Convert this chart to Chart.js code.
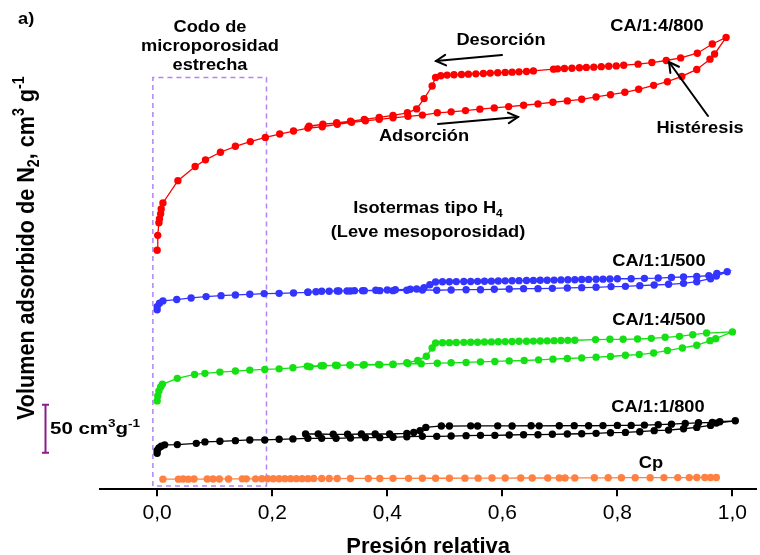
<!DOCTYPE html>
<html><head><meta charset="utf-8">
<script src="https://cdn.jsdelivr.net/npm/chart.js@4.4.1/dist/chart.umd.min.js"></script>
<style>html,body{margin:0;padding:0;background:#fff;}canvas{display:block;}</style>
</head><body>
<canvas id="c" width="760" height="555"></canvas>
<script>
// ---------- data ----------
const xTickValues = [0, 0.2, 0.4, 0.6, 0.8, 1.0];
const xTickLabels = ['0,0', '0,2', '0,4', '0,6', '0,8', '1,0'];
const xRange = [-0.0994, 1.0415];
const yRange = [0, 506];
const seriesNames = ['CA/1:4/800', 'CA/1:1/500', 'CA/1:4/500', 'CA/1:1/800', 'Cp'];
const seriesColors = ['#ff0000', '#3434ff', '#14e014', '#000000', '#ff8040'];

// CA/1:4/800 : adsorption then desorption
const redAds = [[0.000,249.1],[0.001,264.6],[0.003,277.7],[0.004,281.8],[0.006,287.0],[0.007,292.2],[0.010,298.4],[0.036,321.6],[0.066,336.4],[0.084,343.3],[0.110,351.2],[0.136,357.4],[0.162,362.3],[0.188,366.7],[0.213,370.2],[0.237,373.3],[0.262,376.4],[0.287,377.8],[0.313,380.4],[0.338,382.4],[0.362,384.0],[0.386,385.5],[0.410,387.1],[0.436,388.6],[0.461,389.9],[0.487,392.3],[0.511,393.3],[0.536,394.6],[0.561,396.1],[0.586,397.4],[0.611,398.8],[0.637,400.2],[0.662,401.6],[0.688,403.3],[0.713,404.7],[0.738,406.4],[0.763,408.8],[0.788,411.2],[0.813,413.7],[0.837,416.8],[0.863,420.9],[0.887,424.7],[0.912,430.2],[0.938,437.5],[0.961,448.2],[0.969,453.6],[0.989,470.9]];
const redDes = [[0.965,464.0],[0.939,454.4],[0.910,449.5],[0.885,446.8],[0.860,444.7],[0.836,443.0],[0.811,441.9],[0.798,441.2],[0.785,440.9],[0.772,440.4],[0.759,439.9],[0.746,439.6],[0.734,439.2],[0.721,438.8],[0.708,438.5],[0.696,438.1],[0.689,437.8],[0.654,436.0],[0.642,435.4],[0.629,435.0],[0.617,434.7],[0.605,434.4],[0.592,434.0],[0.579,433.7],[0.567,433.3],[0.554,432.9],[0.541,432.6],[0.529,432.3],[0.516,431.9],[0.504,431.6],[0.493,430.9],[0.484,429.2],[0.478,420.2],[0.464,407.1],[0.451,396.4],[0.435,392.3],[0.410,389.6],[0.386,387.6],[0.360,385.5],[0.336,383.5],[0.312,381.9],[0.288,380.4],[0.264,378.3]];

// CA/1:1/500
const blueAds = [[0.000,187.0],[0.000,190.4],[0.004,193.9],[0.010,196.3],[0.034,197.7],[0.059,199.4],[0.085,200.8],[0.111,201.8],[0.136,202.5],[0.161,203.2],[0.186,203.9],[0.212,204.2],[0.237,204.6],[0.262,205.3],[0.286,206.3],[0.313,206.7],[0.336,206.7],[0.357,207.0],[0.387,207.0],[0.410,207.0],[0.434,207.4],[0.461,207.7],[0.486,207.4],[0.511,207.7],[0.537,208.0],[0.562,208.0],[0.586,208.4],[0.612,208.7],[0.637,209.1],[0.662,209.1],[0.687,209.4],[0.713,209.8],[0.738,210.1],[0.763,210.5],[0.789,211.2],[0.814,211.5],[0.839,212.2],[0.864,212.9],[0.889,213.6],[0.915,214.6],[0.938,216.3],[0.962,219.4],[0.972,222.2],[0.991,226.7]];
const blueDes = [[0.973,225.0],[0.959,222.5],[0.938,221.8],[0.915,221.2],[0.894,220.8],[0.871,220.1],[0.847,219.8],[0.824,219.4],[0.800,219.4],[0.787,219.1],[0.775,219.0],[0.763,218.8],[0.750,218.7],[0.738,218.6],[0.726,218.4],[0.714,218.3],[0.702,218.2],[0.690,218.0],[0.678,217.9],[0.666,217.8],[0.654,217.7],[0.642,217.5],[0.629,217.4],[0.617,217.3],[0.605,217.2],[0.593,217.0],[0.581,216.9],[0.569,216.8],[0.557,216.7],[0.545,216.6],[0.533,216.5],[0.520,216.4],[0.508,216.3],[0.496,216.2],[0.484,216.0],[0.474,213.2],[0.464,210.1],[0.451,208.7],[0.440,208.4],[0.414,208.0],[0.400,207.7],[0.380,207.4],[0.360,207.0],[0.343,207.0],[0.330,206.7],[0.316,206.7],[0.299,206.3],[0.276,205.9],[0.262,205.3]];

// CA/1:4/500
const greenAds = [[0.000,92.1],[0.001,97.3],[0.003,102.5],[0.006,106.6],[0.009,109.4],[0.035,115.6],[0.065,119.7],[0.083,120.8],[0.109,122.1],[0.136,123.2],[0.161,124.2],[0.187,124.9],[0.212,125.5],[0.236,126.6],[0.261,128.3],[0.285,128.8],[0.310,129.2],[0.335,129.5],[0.360,129.9],[0.385,130.1],[0.410,130.4],[0.436,131.1],[0.459,130.7],[0.487,131.4],[0.511,131.8],[0.537,132.2],[0.562,132.8],[0.587,133.2],[0.612,133.8],[0.638,134.2],[0.663,134.9],[0.688,135.6],[0.713,136.3],[0.738,136.9],[0.763,137.7],[0.788,138.4],[0.814,139.7],[0.838,140.4],[0.863,142.1],[0.887,144.6],[0.913,147.3],[0.938,150.1],[0.961,154.9],[0.971,157.0],[1.000,164.0]];
const greenDes = [[0.955,162.8],[0.931,161.1],[0.908,159.4],[0.883,158.4],[0.859,157.3],[0.835,156.6],[0.810,156.3],[0.787,156.3],[0.762,156.0],[0.726,155.3],[0.714,155.2],[0.702,155.0],[0.690,154.9],[0.678,154.7],[0.666,154.6],[0.654,154.4],[0.642,154.3],[0.629,154.2],[0.617,154.0],[0.605,153.9],[0.593,153.8],[0.581,153.6],[0.569,153.5],[0.557,153.3],[0.545,153.2],[0.533,153.1],[0.520,152.9],[0.508,152.8],[0.496,152.7],[0.484,152.5],[0.478,147.3],[0.468,138.7],[0.453,134.2],[0.434,131.8],[0.410,130.1],[0.387,129.7],[0.358,129.4],[0.336,129.4],[0.313,129.1],[0.289,128.7],[0.266,127.6]];

// CA/1:1/800
const blackAds = [[0.000,37.6],[0.000,40.4],[0.003,43.2],[0.007,44.8],[0.013,46.3],[0.035,46.6],[0.068,47.9],[0.083,49.4],[0.109,50.0],[0.136,50.7],[0.161,51.4],[0.187,51.4],[0.212,52.1],[0.236,52.5],[0.262,53.1],[0.286,53.1],[0.311,53.1],[0.336,53.5],[0.362,53.8],[0.387,53.8],[0.410,54.2],[0.434,54.8],[0.461,55.2],[0.486,55.2],[0.511,55.5],[0.537,55.9],[0.562,56.2],[0.587,56.2],[0.612,56.6],[0.637,56.9],[0.662,56.9],[0.687,57.3],[0.713,57.6],[0.738,57.9],[0.763,58.3],[0.788,59.0],[0.814,59.3],[0.839,60.0],[0.864,61.1],[0.889,61.7],[0.915,63.1],[0.938,64.5],[0.962,66.6],[0.972,69.0],[1.005,71.4]];
const blackDes = [[0.978,70.4],[0.965,69.7],[0.941,69.3],[0.918,68.6],[0.894,67.9],[0.871,67.3],[0.847,66.9],[0.824,66.6],[0.800,66.6],[0.775,66.4],[0.750,66.2],[0.725,66.3],[0.699,66.2],[0.664,66.1],[0.650,66.2],[0.617,66.0],[0.592,66.1],[0.557,66.0],[0.545,66.1],[0.508,65.9],[0.494,66.0],[0.467,64.5],[0.457,61.1],[0.446,59.3],[0.434,58.3],[0.404,57.6],[0.379,57.6],[0.355,57.6],[0.331,57.3],[0.306,57.3],[0.280,57.6],[0.258,57.6]];

// Cp
const cpPts = [[0.010,10.6],[0.037,10.6],[0.045,10.7],[0.054,10.6],[0.064,10.7],[0.087,10.7],[0.097,10.8],[0.108,10.8],[0.124,10.8],[0.148,10.9],[0.155,10.9],[0.171,10.9],[0.182,11.0],[0.192,11.0],[0.202,11.0],[0.212,11.0],[0.222,11.1],[0.232,11.1],[0.242,11.1],[0.252,11.1],[0.262,11.1],[0.272,11.2],[0.286,11.2],[0.299,11.2],[0.313,11.2],[0.336,11.3],[0.367,11.3],[0.387,11.3],[0.410,11.4],[0.437,11.4],[0.461,11.5],[0.484,11.5],[0.508,11.5],[0.535,11.6],[0.558,11.6],[0.582,11.7],[0.605,11.7],[0.632,11.8],[0.652,11.8],[0.679,11.8],[0.699,11.9],[0.709,11.9],[0.726,11.9],[0.760,12.0],[0.784,12.0],[0.807,12.1],[0.831,12.1],[0.857,12.1],[0.881,12.2],[0.905,12.2],[0.925,12.2],[0.938,12.3],[0.952,12.3],[0.962,12.3],[0.972,12.3]];

// "Codo de microporosidad estrecha" box (data units)
const boxX = [-0.0075, 0.190];
const boxY = [3.4, 429];
// scale bar: 50 cm3/g
const scaleBar = [38, 88];

// ---------- chart ----------
const FONT = '"Liberation Sans", Arial, Helvetica, sans-serif';
const toXY = a => a.map(p => ({x: p[0], y: p[1]}));
const seriesData = [
  redAds.concat(redDes), blueAds.concat(blueDes), greenAds.concat(greenDes),
  blackAds.concat(blackDes), cpPts
];
const datasets = seriesData.map((d, i) => ({
  label: seriesNames[i], data: toXY(d), showLine: true,
  borderColor: seriesColors[i], backgroundColor: seriesColors[i],
  borderWidth: 1.3, pointRadius: 3.7, pointBorderWidth: 0, pointHoverRadius: 3.7, tension: 0
}));
datasets.push({
  label: 'box', showLine: true, pointRadius: 0, borderWidth: 1.5,
  borderColor: '#b383f6', borderDash: [5, 4],
  data: toXY([[boxX[0], boxY[0]], [boxX[0], boxY[1]], [boxX[1], boxY[1]], [boxX[1], boxY[0]], [boxX[0], boxY[0]]])
});

function rich(ctx, segs, x, y, size, align, sx, sy) {
  ctx.save();
  ctx.translate(x, y);
  ctx.scale(sx || 1, sy || 1);
  ctx.textBaseline = 'alphabetic';
  ctx.textAlign = 'left';
  const f = s => 'bold ' + ((s.sub || s.sup) ? size * 0.66 : size) + 'px ' + FONT;
  const w = segs.map(s => { ctx.font = f(s); return ctx.measureText(s.t).width; });
  const total = w.reduce((a, b) => a + b, 0);
  let cx = align === 'center' ? -total / 2 : 0;
  segs.forEach((s, i) => {
    ctx.font = f(s);
    const dy = s.sub ? size * 0.22 : (s.sup ? -size * 0.42 : 0);
    ctx.fillText(s.t, cx, dy);
    cx += w[i];
  });
  ctx.restore();
}
function arrow(ctx, x1, y1, x2, y2) {
  ctx.save();
  ctx.strokeStyle = '#000'; ctx.lineWidth = 2; ctx.lineCap = 'round';
  ctx.beginPath(); ctx.moveTo(x1, y1); ctx.lineTo(x2, y2); ctx.stroke();
  const a = Math.atan2(y2 - y1, x2 - x1), L = 11, h = 0.5;
  ctx.beginPath();
  ctx.moveTo(x2 - L * Math.cos(a - h), y2 - L * Math.sin(a - h));
  ctx.lineTo(x2, y2);
  ctx.lineTo(x2 - L * Math.cos(a + h), y2 - L * Math.sin(a + h));
  ctx.stroke();
  ctx.restore();
}

const annot = {
  id: 'annot',
  afterDraw(chart) {
    const ctx = chart.ctx;
    const ys = chart.scales.y;
    ctx.save();
    ctx.fillStyle = '#000';
    const S = 16, SX = 1.14;
    const t = (s, x, y, al) => rich(ctx, [{t: s}], x, y, S, al || 'center', SX, 1);
    t('a)', 18, 24, 'left');
    t('Codo de', 210, 32);
    t('microporosidad', 210, 51);
    t('estrecha', 210, 70);
    t('Desorción', 501, 45);
    t('Adsorción', 424, 141);
    t('CA/1:4/800', 657, 31);
    t('Histéresis', 700, 133);
    rich(ctx, [{t: 'Isotermas tipo H'}, {t: '4', sub: true}], 428, 213, S, 'center', SX, 1);
    t('(Leve mesoporosidad)', 428, 237);
    t('CA/1:1/500', 659, 266);
    t('CA/1:4/500', 659, 325);
    t('CA/1:1/800', 658, 412);
    t('Cp', 651, 468);
    arrow(ctx, 502, 55, 436, 61);
    arrow(ctx, 438, 124, 518, 117);
    arrow(ctx, 708, 116, 669, 62);
    // scale bar
    const yt = ys.getPixelForValue(scaleBar[1]), yb = ys.getPixelForValue(scaleBar[0]);
    ctx.strokeStyle = '#8c1c8c'; ctx.lineWidth = 2;
    ctx.beginPath();
    ctx.moveTo(45.5, yt); ctx.lineTo(45.5, yb);
    ctx.moveTo(42, yt); ctx.lineTo(49, yt);
    ctx.moveTo(42, yb); ctx.lineTo(49, yb);
    ctx.stroke();
    ctx.fillStyle = '#000';
    rich(ctx, [{t: '50 cm'}, {t: '3', sup: true}, {t: 'g'}, {t: '-1', sup: true}], 50, 434, S, 'left', 1.28, 1);
    // y-axis title
    ctx.save();
    ctx.translate(34, 420);
    ctx.rotate(-Math.PI / 2);
    rich(ctx, [{t: 'Volumen adsorbido de N'}, {t: '2', sub: true}, {t: ', cm'}, {t: '3', sup: true}, {t: ' g'}, {t: '-1', sup: true}], 0, 0, 21.6, 'left', 1, 1.13);
    ctx.restore();
    ctx.restore();
  }
};

new Chart(document.getElementById('c'), {
  type: 'scatter',
  data: {datasets},
  options: {
    responsive: false, animation: false, devicePixelRatio: 1,
    layout: {padding: {left: 100, right: 0, top: 0, bottom: 0}},
    plugins: {legend: {display: false}, tooltip: {enabled: false}},
    scales: {
      x: {
        type: 'linear', min: xRange[0], max: xRange[1],
        afterBuildTicks: ax => { ax.ticks = xTickValues.map(v => ({value: v})); },
        ticks: {
          color: '#000', padding: 4, maxRotation: 0, autoSkip: false,
          font: {family: FONT, size: 21, lineHeight: 1.2},
          callback: (v, i) => xTickLabels[i]
        },
        grid: {drawOnChartArea: false, drawTicks: true, tickLength: 7, color: '#000', lineWidth: 2},
        border: {display: true, color: '#000', width: 2},
        title: {display: true, text: 'Presión relativa', color: '#000',
          font: {family: FONT, size: 22, weight: 'bold', lineHeight: 0.75},
          padding: {top: 9, bottom: 0}}
      },
      y: {type: 'linear', display: false, min: yRange[0], max: yRange[1]}
    }
  },
  plugins: [annot]
});
</script>
</body></html>
